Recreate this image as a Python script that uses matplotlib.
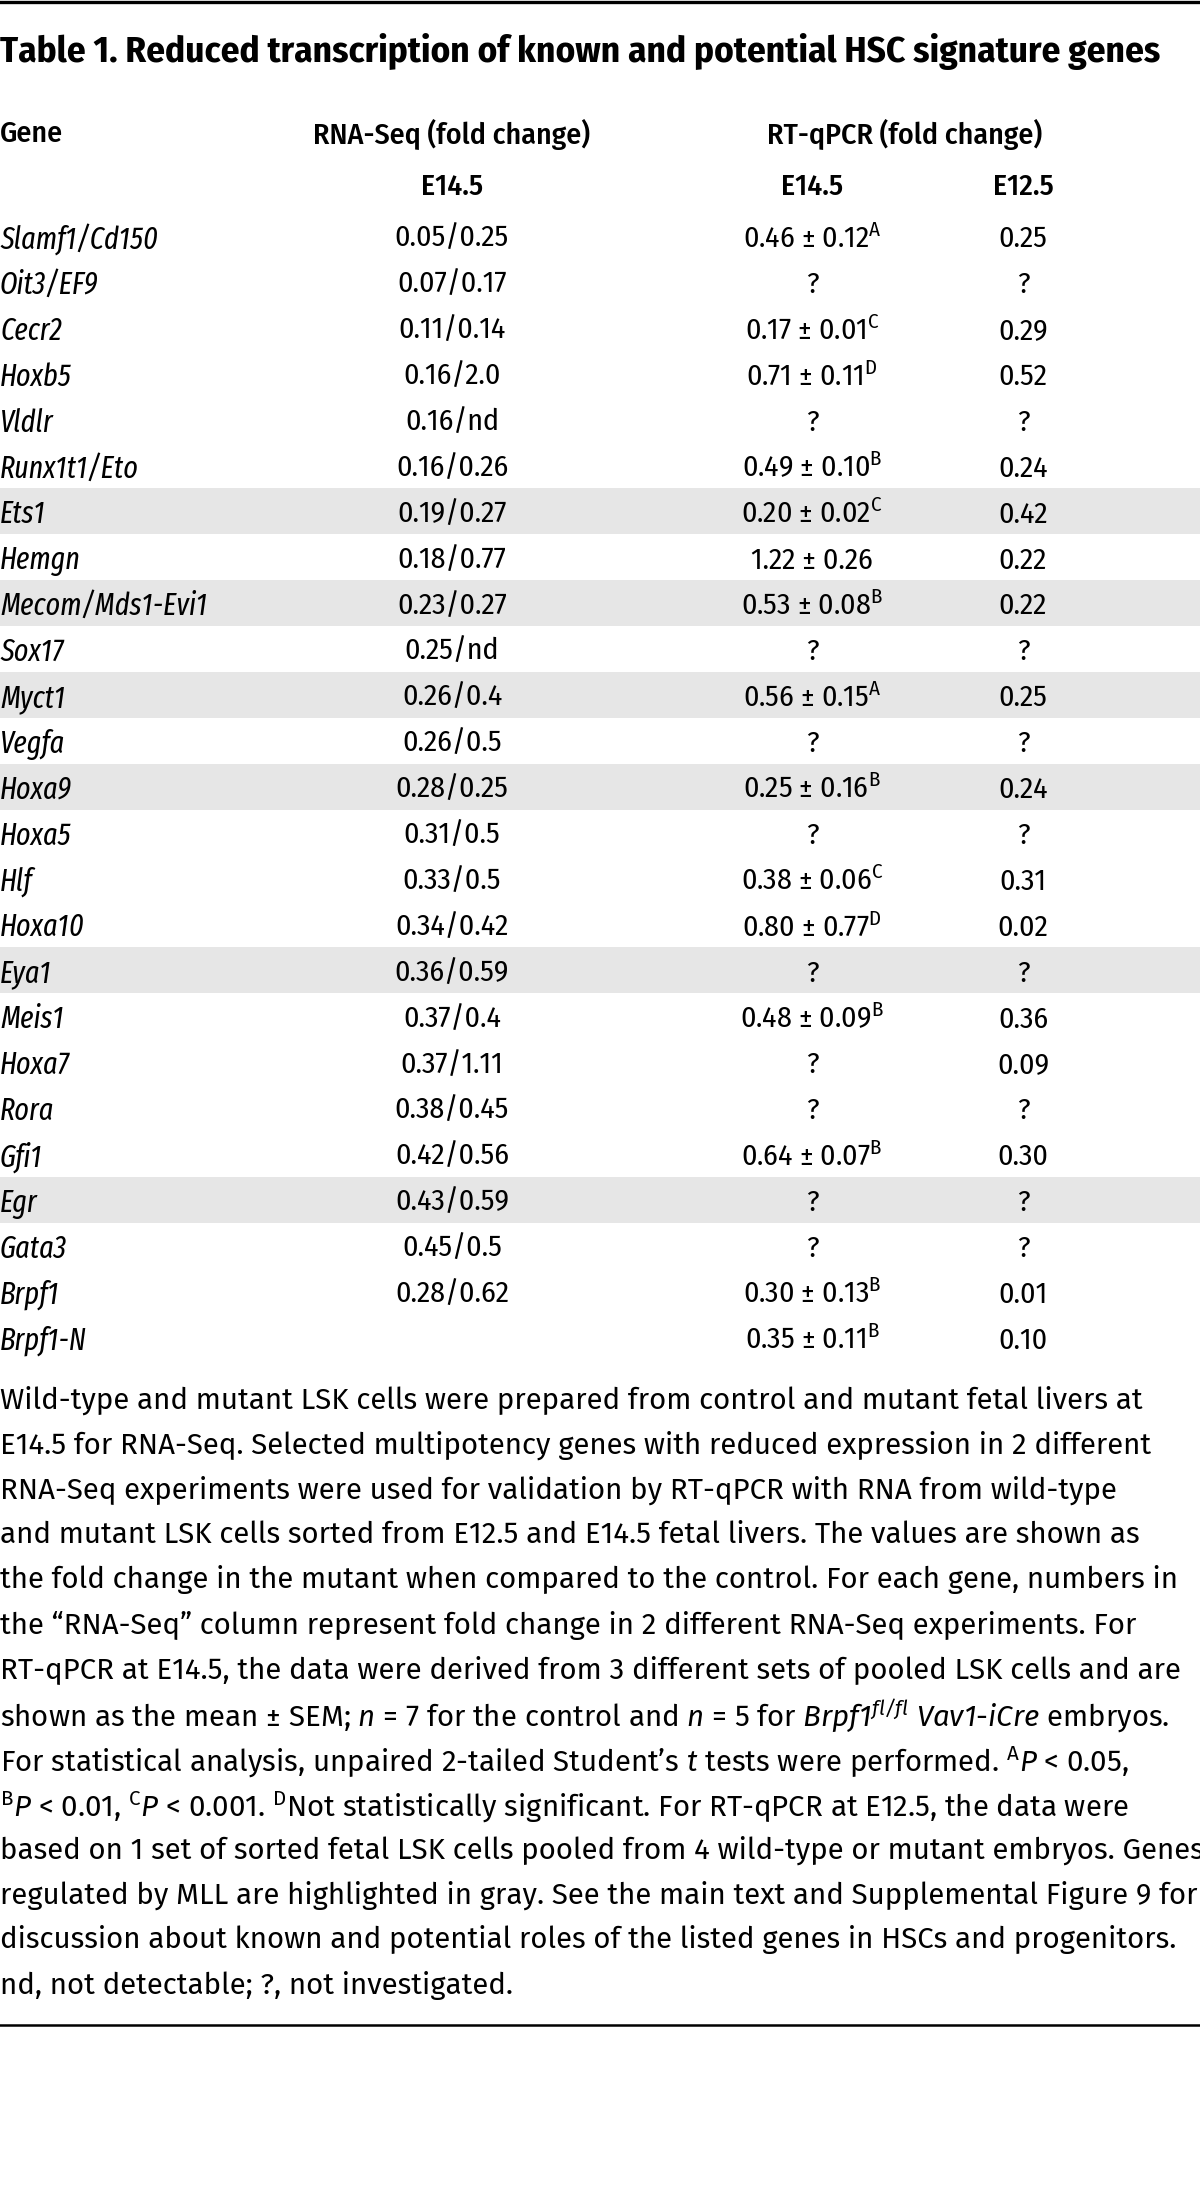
import matplotlib
matplotlib.use("Agg")
import matplotlib.pyplot as plt

plt.rcParams["mathtext.fontset"] = "custom"
plt.rcParams["mathtext.rm"] = "Fira Sans"
plt.rcParams["mathtext.it"] = "Fira Sans:italic"
plt.rcParams["mathtext.sf"] = "Fira Sans:italic"   # italic that keeps digits italic too
plt.rcParams["mathtext.bf"] = "Fira Sans:bold"

TABLE_FONT = "Fira Sans Condensed"
GENE_FONT = "Fira Sans Extra Condensed"
NOTE_FONT = "Fira Sans"

title = "Table 1. Reduced transcription of known and potential HSC signature genes"

genes = ["Slamf1/Cd150", "Oit3/EF9", "Cecr2", "Hoxb5", "Vldlr", "Runx1t1/Eto", "Ets1",
         "Hemgn", "Mecom/Mds1-Evi1", "Sox17", "Myct1", "Vegfa", "Hoxa9", "Hoxa5", "Hlf",
         "Hoxa10", "Eya1", "Meis1", "Hoxa7", "Rora", "Gfi1", "Egr", "Gata3", "Brpf1", "Brpf1-N"]
rnaseq_e145 = ["0.05/0.25", "0.07/0.17", "0.11/0.14", "0.16/2.0", "0.16/nd", "0.16/0.26",
               "0.19/0.27", "0.18/0.77", "0.23/0.27", "0.25/nd", "0.26/0.4", "0.26/0.5",
               "0.28/0.25", "0.31/0.5", "0.33/0.5", "0.34/0.42", "0.36/0.59", "0.37/0.4",
               "0.37/1.11", "0.38/0.45", "0.42/0.56", "0.43/0.59", "0.45/0.5", "0.28/0.62", ""]
qpcr_e145 = ["0.46 ± 0.12", "?", "0.17 ± 0.01", "0.71 ± 0.11", "?", "0.49 ± 0.10",
             "0.20 ± 0.02", "1.22 ± 0.26", "0.53 ± 0.08", "?", "0.56 ± 0.15", "?",
             "0.25 ± 0.16", "?", "0.38 ± 0.06", "0.80 ± 0.77", "?", "0.48 ± 0.09", "?", "?",
             "0.64 ± 0.07", "?", "?", "0.30 ± 0.13", "0.35 ± 0.11"]
qpcr_sig = ["A", "", "C", "D", "", "B", "C", "", "B", "", "A", "", "B", "", "C", "D", "",
            "B", "", "", "B", "", "", "B", "B"]
qpcr_e125 = ["0.25", "?", "0.29", "0.52", "?", "0.24", "0.42", "0.22", "0.22", "?", "0.25",
             "?", "0.24", "?", "0.31", "0.02", "?", "0.36", "0.09", "?", "0.30", "?", "?",
             "0.01", "0.10"]
# genes regulated by MLL (gray rows)
mll_genes = ["Ets1", "Mecom/Mds1-Evi1", "Myct1", "Hoxa9", "Eya1", "Egr"]

note_lines = [
    "Wild-type and mutant LSK cells were prepared from control and mutant fetal livers at",
    "E14.5 for RNA-Seq. Selected multipotency genes with reduced expression in 2 different",
    "RNA-Seq experiments were used for validation by RT-qPCR with RNA from wild-type",
    "and mutant LSK cells sorted from E12.5 and E14.5 fetal livers. The values are shown as",
    "the fold change in the mutant when compared to the control. For each gene, numbers in",
    "the \u201cRNA-Seq\u201d column represent fold change in 2 different RNA-Seq experiments. For",
    "RT-qPCR at E14.5, the data were derived from 3 different sets of pooled LSK cells and are",
    r"shown as the mean ± SEM; $\mathsf{n}$ = 7 for the control and $\mathsf{n}$ = 5 for "
    r"$\mathsf{Brpf1}^{\mathsf{fl/fl}}$ $\mathsf{Vav1}$-$\mathsf{iCre}$ embryos.",
    "For statistical analysis, unpaired 2-tailed Student\u2019s $\\mathsf{t}$ tests were performed. "
    r"$^{\mathdefault{A}}\mathsf{P}$ < 0.05,",
    r"$^{\mathdefault{B}}\mathsf{P}$ < 0.01, $^{\mathdefault{C}}\mathsf{P}$ < 0.001. "
    r"$^{\mathdefault{D}}$Not statistically significant. For RT-qPCR at E12.5, the data were",
    "based on 1 set of sorted fetal LSK cells pooled from 4 wild-type or mutant embryos. Genes",
    "regulated by MLL are highlighted in gray. See the main text and Supplemental Figure 9 for",
    "discussion about known and potential roles of the listed genes in HSCs and progenitors.",
    "nd, not detectable; ?, not investigated.",
]

W, H = 1200, 2200
fig = plt.figure(figsize=(W / 100, H / 100), dpi=100)
ax = fig.add_axes([0, 0, 1, 1])
ax.set_xlim(0, W)
ax.set_ylim(H, 0)
ax.axis("off")

x_gene, x_rna, x_q145, x_q125, x_qhead = 0, 452, 812, 1023, 905
y_title, y_head, y_sub = 52, 134, 187
y_row0, row_h = 236, 45.9
y_note0, note_h = 1397, 45.0

ax.axhline(1.5, color="black", lw=2.4)
ax.axhline(2025, color="black", lw=1.8)

ax.text(x_gene, y_title, title, family=TABLE_FONT, weight="bold", fontsize=26.7,
        va="center", ha="left")

hkw = dict(family=TABLE_FONT, weight=500, fontsize=21.5, va="center")
ax.text(x_gene, y_head, "Gene", ha="left", **hkw)
ax.text(x_rna, y_head, "RNA-Seq (fold change)", ha="center", **hkw)
ax.text(x_qhead, y_head, "RT-qPCR (fold change)", ha="center", **hkw)
ax.text(x_rna, y_sub, "E14.5", ha="center", **hkw)
ax.text(x_q145, y_sub, "E14.5", ha="center", **hkw)
ax.text(x_q125, y_sub, "E12.5", ha="center", **hkw)

ckw = dict(family=TABLE_FONT, fontsize=21.5, va="center_baseline")
for i, g in enumerate(genes):
    y = y_row0 + i * row_h
    if g in mll_genes:
        ax.axhspan(y - row_h / 2, y + row_h / 2, color="#e6e6e6", lw=0, zorder=0)
    ax.text(x_gene, y, g, ha="left", style="italic", family=GENE_FONT, fontsize=22,
            va="center_baseline")
    ax.text(x_rna, y, rnaseq_e145[i], ha="center", **ckw)
    s = qpcr_e145[i]
    if qpcr_sig[i]:
        s += r"$^{\mathdefault{%s}}$" % qpcr_sig[i]
    ax.text(x_q145, y, s, ha="center", **ckw)
    ax.text(x_q125, y, qpcr_e125[i], ha="center", **ckw)

for j, line in enumerate(note_lines):
    ax.text(0, y_note0 + j * note_h, line, family=NOTE_FONT, fontsize=21.2,
            ha="left", va="center_baseline")

fig.savefig("out.png", dpi=100)
